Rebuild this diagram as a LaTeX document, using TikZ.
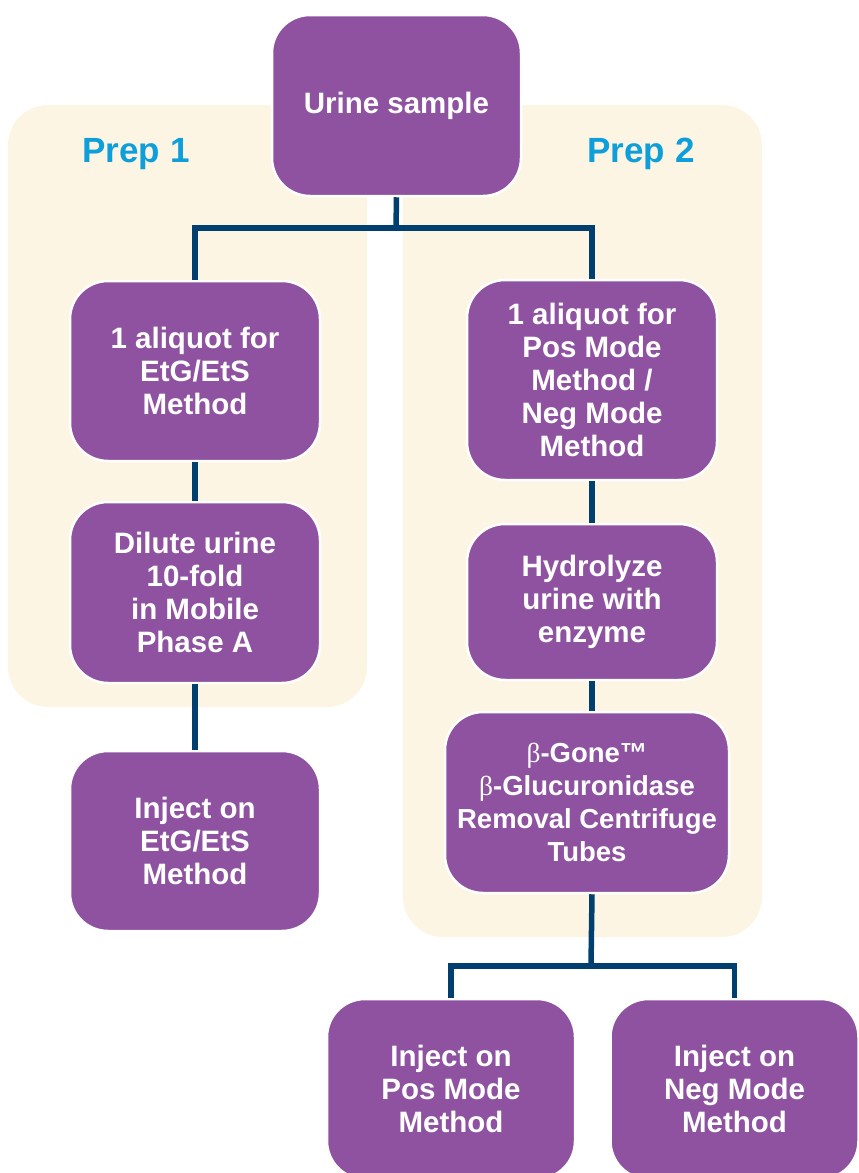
\documentclass[tikz,border=0pt]{standalone}
\usepackage{fontspec}
\setmainfont{Liberation Sans}
\newfontfamily\betafont{Liberation Serif}
\definecolor{boxpurple}{RGB}{142,82,161}
\definecolor{panelcream}{RGB}{253,245,227}
\definecolor{linkblue}{RGB}{0,63,111}
\definecolor{prepblue}{RGB}{14,159,219}
\begin{document}
\begin{tikzpicture}[x=1pt,y=-1pt,
  procbox/.style={draw=white, line width=2.5pt, fill=boxpurple, rounded corners=38pt,
    minimum width=250pt, minimum height=180pt, inner sep=0pt, align=center,
    text=white, font=\fontsize{29.5}{33}\selectfont\bfseries},
  preplabel/.style={text=prepblue, font=\fontsize{35}{40}\selectfont\bfseries},
  panel/.style={fill=panelcream, rounded corners=40pt},
  conn/.style={draw=linkblue, line width=5.5pt, line join=miter}]
\useasboundingbox (0,0) rectangle (859,1173);
% panels
\fill[panel] (8,105) rectangle (367,707);
\fill[panel] (403,105) rectangle (762,937);
% labels
\node[preplabel] (prep1) at (136,154) {Prep 1};
\node[preplabel] (prep2) at (641,154) {Prep 2};
% nodes
\node[procbox, minimum width=249pt, minimum height=181pt] (urine) at (396.5,105.5) {Urine sample};
\node[procbox] (a1) at (195,371) {1 aliquot for\\EtG/EtS\\Method};
\node[procbox, minimum height=181pt] (dil) at (195,592.5) {Dilute urine\\10-fold\\in Mobile\\Phase A};
\node[procbox] (inj1) at (195,841) {Inject on\\EtG/EtS\\Method};
\node[procbox, minimum height=200pt] (a2) at (592,380) {1 aliquot for\\Pos Mode\\Method /\\Neg Mode\\Method};
\node[procbox, minimum height=156pt] (hyd) at (592,602) {Hydrolyze\\urine with\\enzyme};
\node[procbox, minimum width=284pt, minimum height=181pt, font=\fontsize{27.5}{33}\selectfont\bfseries] (beta) at (587,802.5)
  {{\betafont\mdseries β}-Gone™\\{\betafont\mdseries β}-Glucuronidase\\Removal Centrifuge\\Tubes};
\node[procbox, minimum width=248pt] (injP) at (451,1089) {Inject on\\Pos Mode\\Method};
\node[procbox, minimum width=248pt] (injN) at (734.5,1089) {Inject on\\Neg Mode\\Method};
% split coordinates
\coordinate (split1) at (396,228);
\coordinate (split2) at (591,966);
% connectors
\draw[conn] (urine.south) -- (split1);
\draw[conn] (split1) -| (a1.north);
\draw[conn] (split1) -| (a2.north);
\draw[conn] (a1.south) -- (dil.north);
\draw[conn] (dil.south) -- (inj1.north);
\draw[conn] (a2.south) -- (hyd.north);
\draw[conn] (hyd.south) -- (hyd.south |- beta.north);
\draw[conn] (hyd.south |- beta.south) -- (split2);
\draw[conn] (split2) -| (injP.north);
\draw[conn] (split2) -| (injN.north);
\end{tikzpicture}
\end{document}
